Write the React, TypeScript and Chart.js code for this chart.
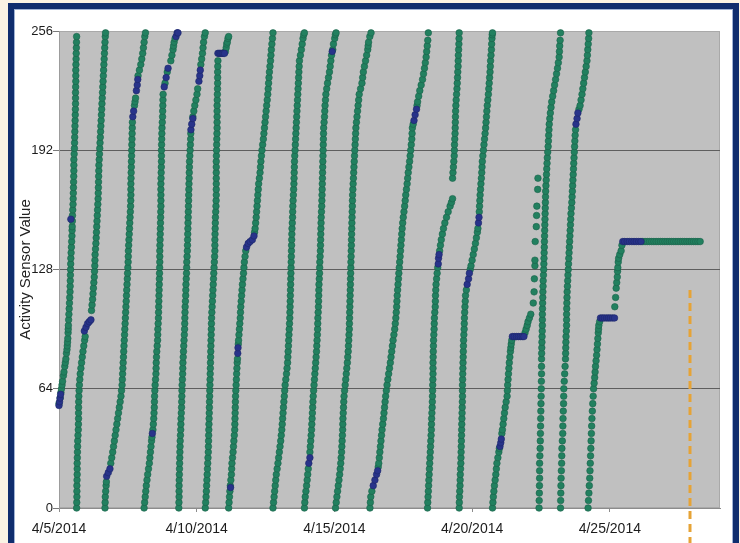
import { useEffect, useRef } from "react";
import { Chart, registerables } from "chart.js";

Chart.register(...registerables);

// ---- axis definitions ----
const START_DATE = [2014, 3, 5]; // 4/5/2014 (month is 0-based)
const X_MIN_DAYS = 0;
const X_MAX_DAYS = 24;
const X_TICK_DAYS = [0, 5, 10, 15, 20];
const Y_MIN = 0;
const Y_MAX = 256;
const Y_TICKS = [0, 64, 128, 192, 256];
const Y_TITLE = "Activity Sensor Value";
const MARKER_DAY = 22.9;
const MARKER_TOP = 117;

// ---- series: [days since 4/5/2014, sensor value] ----
const strokeA = [[0.00,56],[0.04,59],[0.07,62],[0.09,64],[0.11,66],[0.13,68],[0.16,71],[0.18,73],[0.21,76],[0.23,78],[0.25,80],[0.27,83],[0.29,85],[0.30,87],[0.31,89],[0.32,91],[0.33,94],[0.335,96],[0.34,98],[0.35,101],[0.36,104],[0.37,107],[0.38,110],[0.39,113],[0.40,116],[0.405,119],[0.41,122],[0.415,125],[0.42,128],[0.425,131],[0.43,134],[0.44,137],[0.45,140],[0.46,143],[0.47,146],[0.475,149],[0.48,151],[0.485,154],[0.49,157],[0.50,160],[0.51,163],[0.515,166],[0.52,169],[0.525,172],[0.53,175],[0.535,178],[0.54,181],[0.54,184],[0.54,187],[0.55,190],[0.56,193],[0.565,196],[0.57,199],[0.575,202],[0.58,205],[0.585,208],[0.59,211],[0.595,214],[0.60,217],[0.60,220],[0.60,223],[0.605,226],[0.61,229],[0.61,232],[0.61,235],[0.615,238],[0.62,241],[0.625,244],[0.63,247],[0.635,250],[0.64,253]];
const strokeB = [[0.64,0],[0.645,3],[0.65,6],[0.65,9],[0.65,12],[0.655,15],[0.66,18],[0.66,21],[0.66,24],[0.665,27],[0.67,30],[0.675,33],[0.68,36],[0.69,39],[0.70,42],[0.705,45],[0.71,48],[0.71,51],[0.71,54],[0.715,57],[0.72,60],[0.73,63],[0.74,66],[0.755,69],[0.77,72],[0.795,75],[0.82,78],[0.845,81],[0.87,84],[0.90,87],[0.93,90],[0.95,92],[1.18,106],[1.20,109],[1.22,112],[1.235,115],[1.25,118],[1.265,121],[1.28,124],[1.29,127],[1.30,130],[1.305,133],[1.31,136],[1.325,139],[1.34,142],[1.35,145],[1.36,148],[1.37,151],[1.38,154],[1.39,157],[1.40,160],[1.41,163],[1.42,166],[1.425,169],[1.43,172],[1.435,175],[1.44,178],[1.445,181],[1.45,184],[1.46,187],[1.47,190],[1.48,193],[1.49,196],[1.50,199],[1.51,202],[1.52,205],[1.53,208],[1.54,211],[1.55,214],[1.56,217],[1.57,220],[1.58,223],[1.59,226],[1.60,229],[1.61,232],[1.62,235],[1.63,238],[1.64,241],[1.65,244],[1.66,247],[1.67,250],[1.68,253],[1.69,255]];
const strokeC = [[1.67,0],[1.675,3],[1.68,6],[1.695,9],[1.71,12],[1.72,14],[1.88,24],[1.915,27],[1.95,30],[1.98,33],[2.01,36],[2.04,39],[2.07,42],[2.10,45],[2.13,48],[2.16,51],[2.19,54],[2.22,57],[2.25,60],[2.27,63],[2.29,66],[2.30,69],[2.31,72],[2.32,75],[2.33,78],[2.34,81],[2.35,84],[2.36,87],[2.37,90],[2.38,93],[2.39,96],[2.40,99],[2.41,102],[2.42,105],[2.43,108],[2.44,111],[2.45,114],[2.46,117],[2.47,120],[2.48,123],[2.49,126],[2.50,129],[2.51,132],[2.515,135],[2.52,138],[2.53,141],[2.54,144],[2.55,147],[2.56,150],[2.57,153],[2.58,156],[2.59,159],[2.60,162],[2.605,165],[2.61,168],[2.61,171],[2.61,174],[2.615,177],[2.62,180],[2.625,183],[2.63,186],[2.635,189],[2.64,192],[2.645,195],[2.65,198],[2.655,201],[2.66,204],[2.665,207],[2.74,216],[2.76,218],[2.78,220],[2.87,232],[2.92,235],[2.97,238],[3.005,241],[3.04,244],[3.065,247],[3.09,250],[3.115,253],[3.14,255]];
const strokeD = [[3.09,0],[3.11,3],[3.13,6],[3.15,9],[3.17,12],[3.195,15],[3.22,18],[3.25,21],[3.28,24],[3.30,27],[3.32,30],[3.34,33],[3.36,36],[3.375,38],[3.41,42],[3.425,45],[3.44,48],[3.45,51],[3.46,54],[3.465,57],[3.47,60],[3.48,63],[3.49,66],[3.505,69],[3.52,72],[3.525,75],[3.53,78],[3.54,81],[3.55,84],[3.565,87],[3.58,90],[3.585,93],[3.59,96],[3.60,99],[3.61,102],[3.615,105],[3.62,108],[3.625,111],[3.63,114],[3.635,117],[3.64,120],[3.645,123],[3.65,126],[3.655,129],[3.66,132],[3.66,135],[3.66,138],[3.665,141],[3.67,144],[3.675,147],[3.68,150],[3.685,153],[3.69,156],[3.695,159],[3.70,162],[3.70,165],[3.70,168],[3.70,171],[3.70,174],[3.705,177],[3.71,180],[3.715,183],[3.72,186],[3.72,189],[3.72,192],[3.725,195],[3.73,198],[3.735,201],[3.74,204],[3.75,207],[3.76,210],[3.765,213],[3.77,216],[3.775,219],[3.78,222],[3.85,228],[3.93,234],[4.06,240],[4.10,243],[4.14,246],[4.16,248],[4.18,250],[4.215,252]];
const strokeE = [[4.35,0],[4.355,3],[4.36,6],[4.36,9],[4.36,12],[4.365,15],[4.37,18],[4.375,21],[4.38,24],[4.385,27],[4.39,30],[4.395,33],[4.40,36],[4.41,39],[4.42,42],[4.425,45],[4.43,48],[4.44,51],[4.45,54],[4.455,57],[4.46,60],[4.465,63],[4.47,66],[4.48,69],[4.49,72],[4.495,75],[4.50,78],[4.51,81],[4.52,84],[4.53,87],[4.54,90],[4.55,93],[4.56,96],[4.565,99],[4.57,102],[4.575,105],[4.58,108],[4.59,111],[4.60,114],[4.605,117],[4.61,120],[4.62,123],[4.63,126],[4.635,129],[4.64,132],[4.65,135],[4.66,138],[4.665,141],[4.67,144],[4.675,147],[4.68,150],[4.685,153],[4.69,156],[4.695,159],[4.70,162],[4.705,165],[4.71,168],[4.715,171],[4.72,174],[4.725,177],[4.73,180],[4.735,183],[4.74,186],[4.75,189],[4.76,192],[4.77,195],[4.78,198],[4.785,201],[4.86,210],[4.895,213],[4.93,216],[4.97,219],[5.01,222],[5.035,225],[5.15,238],[5.18,241],[5.21,244],[5.23,247],[5.25,250],[5.28,253],[5.31,255]];
const strokeF = [[5.31,0],[5.325,3],[5.34,6],[5.35,9],[5.36,12],[5.37,15],[5.38,18],[5.39,21],[5.40,24],[5.41,27],[5.42,30],[5.425,33],[5.43,36],[5.435,39],[5.44,42],[5.445,45],[5.45,48],[5.455,51],[5.46,54],[5.465,57],[5.47,60],[5.475,63],[5.48,66],[5.485,69],[5.49,72],[5.495,75],[5.50,78],[5.505,81],[5.51,84],[5.515,87],[5.52,90],[5.525,93],[5.53,96],[5.535,99],[5.54,102],[5.55,105],[5.56,108],[5.57,111],[5.58,114],[5.59,117],[5.60,120],[5.61,123],[5.62,126],[5.63,129],[5.64,132],[5.65,135],[5.66,138],[5.66,141],[5.66,144],[5.665,147],[5.67,150],[5.675,153],[5.68,156],[5.69,159],[5.70,162],[5.705,165],[5.71,168],[5.71,171],[5.71,174],[5.71,177],[5.71,180],[5.71,183],[5.71,186],[5.715,189],[5.72,192],[5.725,195],[5.73,198],[5.735,201],[5.74,204],[5.74,207],[5.74,210],[5.74,213],[5.74,216],[5.745,219],[5.75,222],[5.755,225],[5.76,228],[5.76,231],[5.76,234],[5.765,237],[5.77,240],[6.04,245],[6.07,247],[6.09,249],[6.11,250],[6.135,252],[6.16,253]];
const strokeG = [[6.16,0],[6.175,3],[6.19,6],[6.205,9],[6.22,12],[6.24,15],[6.26,18],[6.27,21],[6.28,24],[6.30,27],[6.32,30],[6.335,33],[6.35,36],[6.365,39],[6.38,42],[6.385,45],[6.39,48],[6.395,51],[6.40,54],[6.405,57],[6.41,60],[6.42,63],[6.43,66],[6.44,69],[6.45,72],[6.46,75],[6.47,78],[6.48,80],[6.51,88],[6.52,90],[6.535,93],[6.55,96],[6.565,99],[6.58,102],[6.59,105],[6.60,108],[6.615,111],[6.63,114],[6.645,117],[6.66,120],[6.68,123],[6.70,126],[6.715,129],[6.73,132],[6.755,135],[6.78,138],[7.10,148],[7.12,150],[7.14,153],[7.16,156],[7.175,159],[7.19,162],[7.205,165],[7.22,168],[7.235,171],[7.25,174],[7.275,177],[7.30,180],[7.315,183],[7.33,186],[7.35,189],[7.37,192],[7.395,195],[7.42,198],[7.44,201],[7.46,204],[7.48,207],[7.50,210],[7.52,213],[7.54,216],[7.56,219],[7.58,222],[7.595,225],[7.61,228],[7.625,231],[7.64,234],[7.66,237],[7.68,240],[7.695,243],[7.71,246],[7.73,249],[7.75,252],[7.77,255]];
const strokeH = [[7.77,0],[7.79,3],[7.81,6],[7.83,9],[7.85,12],[7.87,15],[7.89,18],[7.92,21],[7.95,24],[7.975,27],[8.00,30],[8.025,33],[8.05,36],[8.07,39],[8.09,42],[8.105,45],[8.12,48],[8.135,51],[8.15,54],[8.165,57],[8.18,60],[8.195,63],[8.21,66],[8.235,69],[8.26,72],[8.28,75],[8.30,78],[8.31,81],[8.32,84],[8.33,87],[8.34,90],[8.35,93],[8.36,96],[8.37,99],[8.38,102],[8.385,105],[8.39,108],[8.395,111],[8.40,114],[8.405,117],[8.41,120],[8.415,123],[8.42,126],[8.425,129],[8.43,132],[8.435,135],[8.44,138],[8.445,141],[8.45,144],[8.455,147],[8.46,150],[8.47,153],[8.48,156],[8.485,159],[8.49,162],[8.50,165],[8.51,168],[8.52,171],[8.53,174],[8.535,177],[8.54,180],[8.545,183],[8.55,186],[8.56,189],[8.57,192],[8.58,195],[8.59,198],[8.60,201],[8.61,204],[8.62,207],[8.63,210],[8.64,213],[8.65,216],[8.66,219],[8.67,222],[8.68,225],[8.69,228],[8.70,231],[8.71,234],[8.72,237],[8.73,240],[8.765,243],[8.80,246],[8.83,249],[8.86,252],[8.885,254],[8.91,255]];
const strokeI = [[8.91,0],[8.925,3],[8.94,6],[8.965,9],[8.99,12],[9.01,15],[9.03,18],[9.05,21],[9.11,30],[9.125,33],[9.14,36],[9.155,39],[9.17,42],[9.18,45],[9.19,48],[9.20,51],[9.21,54],[9.22,57],[9.23,60],[9.245,63],[9.26,66],[9.275,69],[9.29,72],[9.305,75],[9.32,78],[9.335,81],[9.35,84],[9.36,87],[9.37,90],[9.38,93],[9.39,96],[9.395,99],[9.40,102],[9.41,105],[9.42,108],[9.425,111],[9.43,114],[9.435,117],[9.44,120],[9.45,123],[9.46,126],[9.465,129],[9.47,132],[9.48,135],[9.49,138],[9.495,141],[9.50,144],[9.505,147],[9.51,150],[9.515,153],[9.52,156],[9.53,159],[9.54,162],[9.545,165],[9.55,168],[9.555,171],[9.56,174],[9.565,177],[9.57,180],[9.575,183],[9.58,186],[9.585,189],[9.59,192],[9.595,195],[9.60,198],[9.605,201],[9.61,204],[9.625,207],[9.64,210],[9.65,213],[9.66,216],[9.675,219],[9.69,222],[9.72,225],[9.75,228],[9.785,231],[9.82,234],[9.845,237],[9.87,240],[9.895,243],[9.94,246],[9.965,249],[10.01,252],[10.035,254],[10.06,255]];
const strokeJ = [[10.04,0],[10.065,3],[10.09,6],[10.115,9],[10.14,12],[10.165,15],[10.19,18],[10.21,21],[10.23,24],[10.245,27],[10.26,30],[10.27,33],[10.28,36],[10.29,39],[10.30,42],[10.305,45],[10.31,48],[10.32,51],[10.33,54],[10.34,57],[10.35,60],[10.37,63],[10.39,66],[10.41,69],[10.43,72],[10.45,75],[10.47,78],[10.485,81],[10.50,84],[10.51,87],[10.52,90],[10.53,93],[10.54,96],[10.545,99],[10.55,102],[10.555,105],[10.56,108],[10.565,111],[10.57,114],[10.575,117],[10.58,120],[10.585,123],[10.59,126],[10.595,129],[10.60,132],[10.605,135],[10.61,138],[10.615,141],[10.62,144],[10.625,147],[10.63,150],[10.635,153],[10.64,156],[10.645,159],[10.65,162],[10.655,165],[10.66,168],[10.67,171],[10.68,174],[10.69,177],[10.70,180],[10.71,183],[10.72,186],[10.73,189],[10.74,192],[10.75,195],[10.76,198],[10.77,201],[10.78,204],[10.80,207],[10.82,210],[10.84,213],[10.86,216],[10.88,219],[10.90,222],[10.95,225],[11.00,228],[11.025,231],[11.05,234],[11.09,237],[11.13,240],[11.17,243],[11.21,246],[11.225,248],[11.24,250],[11.285,253],[11.33,255]];
const strokeK = [[11.29,0],[11.305,3],[11.32,6],[11.36,9],[11.59,22],[11.61,24],[11.63,27],[11.65,30],[11.67,33],[11.69,36],[11.71,39],[11.73,42],[11.755,45],[11.78,48],[11.80,51],[11.82,54],[11.84,57],[11.86,60],[11.885,63],[11.91,66],[11.94,69],[11.97,72],[12.00,75],[12.03,78],[12.055,81],[12.08,84],[12.105,87],[12.13,90],[12.16,93],[12.19,96],[12.21,99],[12.23,102],[12.245,105],[12.26,108],[12.27,111],[12.28,114],[12.295,117],[12.31,120],[12.325,123],[12.34,126],[12.355,129],[12.37,132],[12.385,135],[12.40,138],[12.415,141],[12.43,144],[12.445,147],[12.46,150],[12.48,153],[12.50,156],[12.525,159],[12.55,162],[12.57,165],[12.59,168],[12.615,171],[12.64,174],[12.66,177],[12.68,180],[12.705,183],[12.73,186],[12.75,189],[12.77,192],[12.79,195],[12.81,198],[12.82,201],[12.83,204],[12.86,206],[13.00,216],[13.02,218],[13.06,221],[13.10,224],[13.15,227],[13.20,230],[13.235,233],[13.27,236],[13.30,239],[13.33,242],[13.35,245],[13.37,248],[13.39,251],[13.41,255]];
const strokeL = [[13.38,0],[13.39,3],[13.40,6],[13.41,9],[13.42,12],[13.43,15],[13.44,18],[13.45,21],[13.46,24],[13.47,27],[13.48,30],[13.49,33],[13.50,36],[13.51,39],[13.52,42],[13.525,45],[13.53,48],[13.54,51],[13.55,54],[13.555,57],[13.56,60],[13.565,63],[13.57,66],[13.575,69],[13.58,72],[13.58,75],[13.58,78],[13.585,81],[13.59,84],[13.595,87],[13.60,90],[13.61,93],[13.62,96],[13.625,99],[13.63,102],[13.645,105],[13.66,108],[13.665,111],[13.67,114],[13.68,117],[13.69,120],[13.71,123],[13.73,126],[13.75,129],[13.82,138],[13.85,141],[13.88,144],[13.92,147],[13.96,150],[14.01,153],[14.07,156],[14.13,159],[14.20,162],[14.25,164],[14.29,166],[14.29,177],[14.305,180],[14.32,183],[14.335,186],[14.35,189],[14.355,192],[14.36,195],[14.37,198],[14.38,201],[14.385,204],[14.39,207],[14.395,210],[14.40,213],[14.41,216],[14.42,219],[14.435,222],[14.45,225],[14.46,228],[14.47,231],[14.48,234],[14.49,237],[14.495,240],[14.50,243],[14.51,246],[14.52,249],[14.525,252],[14.53,255]];
const strokeM = [[14.53,0],[14.535,3],[14.54,6],[14.55,9],[14.56,12],[14.565,15],[14.57,18],[14.58,21],[14.59,24],[14.595,27],[14.60,30],[14.605,33],[14.61,36],[14.615,39],[14.62,42],[14.625,45],[14.63,48],[14.635,51],[14.64,54],[14.645,57],[14.65,60],[14.65,63],[14.65,66],[14.655,69],[14.66,72],[14.665,75],[14.67,78],[14.675,81],[14.68,84],[14.685,87],[14.69,90],[14.70,93],[14.71,96],[14.715,99],[14.72,102],[14.73,105],[14.74,108],[14.75,111],[14.76,114],[14.79,117],[14.93,128],[14.96,130],[15.00,133],[15.04,136],[15.08,139],[15.12,142],[15.155,145],[15.19,148],[15.21,150],[15.26,159],[15.27,162],[15.28,165],[15.29,168],[15.305,171],[15.32,174],[15.335,177],[15.35,180],[15.36,183],[15.37,186],[15.39,189],[15.41,192],[15.43,195],[15.45,198],[15.47,201],[15.49,204],[15.505,207],[15.52,210],[15.535,213],[15.55,216],[15.57,219],[15.59,222],[15.605,225],[15.62,228],[15.635,231],[15.65,234],[15.66,237],[15.67,240],[15.685,243],[15.70,246],[15.71,249],[15.72,252],[15.73,254],[15.74,255]];
const strokeN = [[15.74,0],[15.755,3],[15.77,6],[15.79,9],[15.81,12],[15.835,15],[15.86,18],[15.88,21],[15.90,24],[15.935,27],[15.97,30],[15.99,32],[16.08,40],[16.10,42],[16.125,45],[16.15,48],[16.175,51],[16.20,54],[16.235,57],[16.27,60],[16.28,63],[16.29,66],[16.305,69],[16.32,72],[16.335,75],[16.35,78],[16.37,81],[16.39,84],[16.405,86],[16.42,88],[16.44,90],[16.92,94],[16.96,96],[17.00,98],[17.03,100],[17.08,102],[17.13,104],[17.22,110],[17.25,116],[17.26,123],[17.28,130],[17.28,133],[17.29,143],[17.33,151],[17.34,157],[17.35,162],[17.38,171],[17.39,177]];
const strokeO = [[17.43,0],[17.435,4],[17.44,8],[17.445,12],[17.45,16],[17.45,20],[17.45,24],[17.46,28],[17.47,32],[17.475,36],[17.48,40],[17.485,44],[17.49,48],[17.495,52],[17.50,56],[17.505,60],[17.51,64],[17.515,68],[17.52,72],[17.52,76],[17.52,80],[17.525,83],[17.53,86],[17.535,89],[17.54,92],[17.545,95],[17.55,98],[17.55,101],[17.55,104],[17.555,107],[17.56,110],[17.565,113],[17.57,116],[17.575,119],[17.58,122],[17.59,125],[17.60,128],[17.605,131],[17.61,134],[17.615,137],[17.62,140],[17.625,143],[17.63,146],[17.635,149],[17.64,152],[17.645,155],[17.65,158],[17.655,161],[17.66,164],[17.665,167],[17.67,170],[17.68,173],[17.69,176],[17.70,179],[17.71,182],[17.72,185],[17.73,188],[17.745,191],[17.76,194],[17.77,197],[17.78,200],[17.79,203],[17.80,206],[17.82,209],[17.84,212],[17.865,215],[17.89,218],[17.925,221],[17.96,224],[17.995,227],[18.03,230],[18.065,233],[18.10,236],[18.13,239],[18.16,242],[18.17,245],[18.18,248],[18.195,251],[18.21,255]];
const strokeP = [[18.21,0],[18.215,4],[18.22,8],[18.225,12],[18.23,16],[18.24,20],[18.25,24],[18.255,28],[18.26,32],[18.275,36],[18.29,40],[18.295,44],[18.30,48],[18.31,52],[18.32,56],[18.325,60],[18.33,64],[18.345,68],[18.36,72],[18.375,76],[18.39,80],[18.395,83],[18.40,86],[18.405,89],[18.41,92],[18.42,95],[18.43,98],[18.43,101],[18.43,104],[18.435,107],[18.44,110],[18.445,113],[18.45,116],[18.46,119],[18.47,122],[18.48,125],[18.49,128],[18.50,131],[18.51,134],[18.52,137],[18.53,140],[18.54,143],[18.55,146],[18.56,149],[18.57,152],[18.58,155],[18.59,158],[18.605,161],[18.62,164],[18.63,167],[18.64,170],[18.65,173],[18.66,176],[18.67,179],[18.68,182],[18.69,185],[18.70,188],[18.71,191],[18.72,194],[18.73,197],[18.74,200],[18.755,203],[18.88,214],[18.92,216],[18.955,219],[18.99,222],[19.02,225],[19.05,228],[19.08,231],[19.11,234],[19.14,237],[19.17,240],[19.185,243],[19.20,246],[19.215,249],[19.23,252],[19.24,255]];
const strokeQ = [[19.21,0],[19.225,4],[19.24,8],[19.255,12],[19.27,16],[19.28,20],[19.29,24],[19.30,28],[19.31,32],[19.32,36],[19.33,40],[19.34,44],[19.35,48],[19.365,52],[19.38,56],[19.395,60],[19.41,64],[19.43,67],[19.45,70],[19.465,73],[19.48,76],[19.50,79],[19.52,82],[19.535,85],[19.55,88],[19.565,91],[19.58,94],[19.59,96],[19.60,98],[19.63,100],[20.18,108],[20.21,113],[20.23,118],[20.25,121],[20.27,124],[20.28,127],[20.29,129],[20.305,132],[20.32,134],[20.36,136],[20.41,138],[20.44,141],[21.20,143],[21.28,143],[21.36,143],[21.44,143],[21.52,143],[21.60,143],[21.68,143],[21.76,143],[21.84,143],[21.92,143],[22.00,143],[22.08,143],[22.16,143],[22.24,143],[22.32,143],[22.40,143],[22.48,143],[22.56,143],[22.64,143],[22.72,143],[22.80,143],[22.88,143],[22.96,143],[23.04,143],[23.12,143],[23.20,143],[23.28,143]];

// readings where the counter stalls (drawn dark blue)
const steadyPoints = [[0.00,55],[0.02,57],[0.04,59],[0.06,61],[0.43,155],
[0.92,95],[0.98,97],[1.04,99],[1.10,100],[1.16,101],
[1.73,17],[1.79,19],[1.85,21],[2.68,210],[2.71,213],[2.81,224],[2.84,227],[2.86,230],
[3.39,40],[3.82,226],[3.89,231],[3.96,236],[4.25,253],[4.29,255],[4.32,255],
[4.79,203],[4.82,206],[4.86,209],[5.08,229],[5.11,232],[5.13,235],
[5.77,244],[5.82,244],[5.87,244],[5.92,244],[5.96,244],[6.01,244],
[6.23,11],[6.49,83],[6.50,86],[6.81,140],[6.87,142],[6.94,143],[7.02,144],[7.08,146],
[9.07,24],[9.11,27],[9.92,245],
[11.41,12],[11.47,15],[11.53,18],[11.57,20],[12.89,208],[12.93,211],[12.98,214],
[13.77,131],[13.78,134],[13.80,136],
[14.82,120],[14.87,123],[14.90,126],[15.23,153],[15.25,156],
[16.01,33],[16.04,35],[16.06,37],[16.46,92],[16.53,92],[16.61,92],[16.68,92],[16.75,92],[16.82,92],[16.88,92],
[18.77,206],[18.81,209],[18.84,212],
[19.66,102],[19.73,102],[19.80,102],[19.88,102],[19.95,102],[20.02,102],[20.10,102],[20.17,102],
[20.47,143],[20.54,143],[20.63,143],[20.71,143],[20.80,143],[20.88,143],[20.96,143],[21.05,143],[21.13,143]];

const FONT = "'Liberation Sans', Arial, sans-serif";

function formatDay(v: number) {
  const d = new Date(START_DATE[0], START_DATE[1], START_DATE[2] + v);
  return `${d.getMonth() + 1}/${d.getDate()}/${d.getFullYear()}`;
}

export default function App() {
  const ref = useRef<HTMLCanvasElement>(null);

  useEffect(() => {
    const toXY = (arr: number[][]) => arr.map(([x, y]) => ({ x, y }));
    const activity = [strokeA, strokeB, strokeC, strokeD, strokeE, strokeF, strokeG, strokeH, strokeI, strokeJ, strokeK, strokeL, strokeM, strokeN, strokeO, strokeP, strokeQ].flat();

    const plotBg = {
      id: "plotBg",
      beforeDraw(chart: any) {
        const { ctx, chartArea } = chart;
        const { left, top, width, height } = chartArea;
        ctx.save();
        ctx.fillStyle = "#c0c0c0";
        ctx.fillRect(left, top, width, height);
        ctx.strokeStyle = "#a9a9a9";
        ctx.lineWidth = 1;
        ctx.strokeRect(left + 0.5, top + 0.5, width - 1, height - 1);
        ctx.restore();
      },
    };

    const marker = {
      id: "marker",
      afterDraw(chart: any) {
        const { ctx } = chart;
        const xs = chart.scales.x;
        const ys = chart.scales.y;
        const x = Math.round(xs.getPixelForValue(MARKER_DAY));
        const y1 = ys.getPixelForValue(MARKER_TOP);
        ctx.save();
        ctx.strokeStyle = "#e6a336";
        ctx.lineWidth = 3;
        ctx.setLineDash([8, 5]);
        ctx.beginPath();
        ctx.moveTo(x, y1);
        ctx.lineTo(x, chart.height);
        ctx.stroke();
        ctx.restore();
      },
    };

    const chart = new Chart(ref.current!, {
      type: "scatter",
      data: {
        datasets: [
          {
            label: "steady",
            data: toXY(steadyPoints),
            backgroundColor: "#28338a",
            borderColor: "#1d266a",
            borderWidth: 0.6,
            pointRadius: 3.3,
            clip: false,
          },
          {
            label: "activity",
            data: toXY(activity),
            backgroundColor: "#22805f",
            borderColor: "#1a6249",
            borderWidth: 0.6,
            pointRadius: 3.3,
            clip: false,
          },
        ],
      },
      options: {
        animation: false,
        responsive: false,
        devicePixelRatio: 1,
        events: [],
        layout: { padding: { left: 10, top: 31, right: 20, bottom: 0 } },
        plugins: { legend: { display: false }, tooltip: { enabled: false } },
        scales: {
          x: {
            type: "linear",
            min: X_MIN_DAYS,
            max: X_MAX_DAYS,
            afterBuildTicks: (s: any) => {
              s.ticks = X_TICK_DAYS.map((v) => ({ value: v }));
            },
            afterFit: (s: any) => {
              s.height = 35;
            },
            grid: { drawOnChartArea: false, drawTicks: true, tickLength: 4, color: "#8c8c8c" },
            border: { color: "#8c8c8c" },
            ticks: {
              callback: (v: any) => formatDay(Number(v)),
              font: { family: FONT, size: 14 },
              color: "#1c1c1c",
              padding: 9,
              maxRotation: 0,
              autoSkip: false,
            },
          },
          y: {
            min: Y_MIN,
            max: Y_MAX,
            afterBuildTicks: (s: any) => {
              s.ticks = Y_TICKS.map((v) => ({ value: v }));
            },
            afterFit: (s: any) => {
              s.width = 49;
            },
            grid: {
              color: (c: any) => (c.tick && (c.tick.value === Y_MIN || c.tick.value === Y_MAX) ? "#a9a9a9" : "#5e5e5e"),
              tickColor: "#7a7a7a",
              tickLength: 6,
            },
            border: { color: "#9c9c9c" },
            ticks: { font: { family: FONT, size: 13 }, color: "#1c1c1c", padding: 0 },
            title: {
              display: true,
              text: Y_TITLE,
              font: { family: FONT, size: 15 },
              color: "#222",
              padding: { top: 7, bottom: 0 },
            },
          },
        },
      },
      plugins: [plotBg, marker],
    });
    return () => chart.destroy();
  }, []);

  return (
    <div style={{ position: "absolute", left: 0, top: 0, width: 740, height: 543, overflow: "hidden", background: "#faf3e4" }}>
      <div
        style={{
          position: "absolute",
          left: 8,
          top: 3,
          width: 731,
          height: 620,
          boxSizing: "border-box",
          border: "6px solid #0f2d6e",
          background: "#ffffff",
          boxShadow: "inset 0 0 0 1px #9fb2d4",
        }}
      />
      <canvas ref={ref} width={740} height={543} style={{ position: "absolute", left: 0, top: 0 }} />
    </div>
  );
}
